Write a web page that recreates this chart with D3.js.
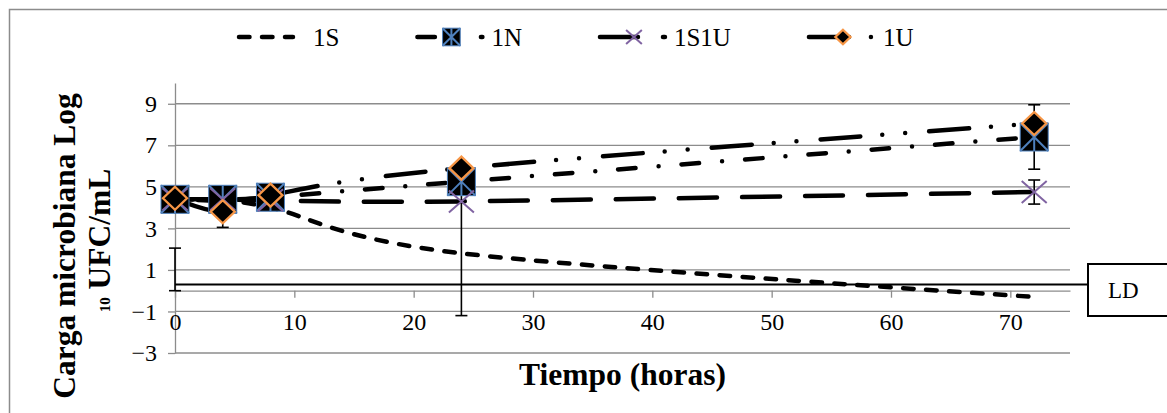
<!DOCTYPE html>
<html>
<head>
<meta charset="utf-8">
<script src="https://cdn.jsdelivr.net/npm/d3@7"></script>
<style>
  body { margin: 0; background: #fff; }
  svg { display: block; }
  svg text { font-family: "Liberation Serif", "Times New Roman", serif; }
</style>
</head>
<body>
<svg id="chart" width="1167" height="413"></svg>
<script>
// data
const hours = [0, 4, 8, 24, 72]
const s1S = [4.4, 4.3, 4.0, 1.8, -0.3]
const s1N = [4.4, 4.4, 4.5, 5.25, 7.4]
const s1S1U = [4.4, 4.4, 4.35, 4.3, 4.75]
const s1U = [4.45, 3.8, 4.6, 5.9, 8.05]
const seriesNames = ["1S", "1N", "1S1U", "1U"]

const errHours = [0, 4, 24, 72, 72]
const errLow = [0, 3.05, -1.2, 5.85, 4.17]
const errHigh = [2.05, 4.55, 4.8, 8.95, 5.33]

const yTicks = [-3, -1, 1, 3, 5, 7, 9]
const xTicks = [0, 10, 20, 30, 40, 50, 60, 70]
const ldValue = 0.3

const gridColor = "#8c8c8c"
const blue = "#4f81bd", purple = "#8064a2", orange = "#f79646"

const svg = d3.select("#chart")
const plot = { left: 175, right: 1070, top: 83, bottom: 353 }

const x = d3.scaleLinear().domain([0, 75]).range([plot.left, plot.right])
const y = d3.scaleLinear().domain([-3, 10]).range([plot.bottom, plot.top])

// outer chart border
svg.append("rect")
    .attr("x", 9.5).attr("y", 9.5)
    .attr("width", 1200).attr("height", 450)
    .attr("fill", "none").attr("stroke", gridColor).attr("stroke-width", 1.5)

// gridlines
svg.append("g").selectAll("line").data(yTicks).join("line")
    .attr("x1", plot.left).attr("x2", plot.right)
    .attr("y1", d => y(d)).attr("y2", d => y(d))
    .attr("stroke", gridColor).attr("stroke-width", 1.3)

// y axis
const yAxis = svg.append("g")
    .attr("transform", `translate(${plot.left},0)`)
    .call(d3.axisLeft(y).tickValues(yTicks).tickSize(7).tickSizeOuter(0).tickPadding(11))
    .attr("font-family", null).attr("font-size", 24)
yAxis.select(".domain").attr("stroke", gridColor).attr("stroke-width", 1.3)
yAxis.selectAll(".tick line").attr("stroke", gridColor).attr("stroke-width", 1.3)
yAxis.selectAll("text").attr("fill", "#000")

// x axis crossing at 0
const xAxis = svg.append("g")
    .attr("transform", `translate(0,${y(0)})`)
    .call(d3.axisBottom(x).tickValues(xTicks).tickSize(7).tickSizeOuter(0))
    .attr("font-family", null).attr("font-size", 24)
xAxis.select(".domain").attr("stroke", gridColor).attr("stroke-width", 1.3)
xAxis.selectAll(".tick line").attr("stroke", gridColor).attr("stroke-width", 1.3)
xAxis.selectAll("text").attr("fill", "#000")
    .attr("y", 330 - y(0)).attr("dy", 0)

// detection limit line and box
const ldBox = { x: 1088, y: 264, h: 52 }
svg.append("line")
    .attr("x1", x(0)).attr("x2", ldBox.x)
    .attr("y1", y(ldValue)).attr("y2", y(ldValue))
    .attr("stroke", "#000").attr("stroke-width", 2)
svg.append("rect")
    .attr("x", ldBox.x).attr("y", ldBox.y).attr("width", 120).attr("height", ldBox.h)
    .attr("fill", "#fff").attr("stroke", "#000").attr("stroke-width", 2)
svg.append("text")
    .attr("x", 1108).attr("y", 298)
    .attr("font-size", 23).text("LD")

// series
const series = [
    { name: seriesNames[0], values: s1S, dash: "10.5,12.5", marker: null },
    { name: seriesNames[1], values: s1N, dash: "17.5,23,0,23", marker: "star" },
    { name: seriesNames[2], values: s1S1U, dash: "38,25", marker: "x" },
    { name: seriesNames[3], values: s1U, dash: "40,22,0,23,0,24", marker: "diamond" }
]

const line = d3.line()
    .x(d => x(d.t))
    .y(d => y(d.v))
    .curve(d3.curveCardinal.tension(0))

const lineStyle = (sel, s) => sel
    .attr("fill", "none").attr("stroke", "#000").attr("stroke-width", 4.5)
    .attr("stroke-linecap", "round").attr("stroke-dasharray", s.dash)

series.forEach(s => {
    const pts = hours.map((t, i) => ({ t: t, v: s.values[i] }))
    svg.append("path").datum(pts).attr("d", line).call(lineStyle, s)
})

// error bars
const errs = errHours.map((t, i) => ({ t: t, lo: errLow[i], hi: errHigh[i] }))
const eb = svg.append("g").attr("stroke", "#000").attr("stroke-width", 1.6)
eb.selectAll(".v").data(errs).join("line")
    .attr("x1", d => x(d.t)).attr("x2", d => x(d.t))
    .attr("y1", d => y(d.lo)).attr("y2", d => y(d.hi))
eb.selectAll(".lo").data(errs).join("line")
    .attr("x1", d => x(d.t) - 6).attr("x2", d => x(d.t) + 6)
    .attr("y1", d => y(d.lo)).attr("y2", d => y(d.lo))
eb.selectAll(".hi").data(errs).join("line")
    .attr("x1", d => x(d.t) - 6).attr("x2", d => x(d.t) + 6)
    .attr("y1", d => y(d.hi)).attr("y2", d => y(d.hi))

// markers
function drawMarker(g, type, k) {
    if (type === "star") {
        const h = 14 * k
        g.append("rect").attr("x", -h).attr("y", -h).attr("width", 2 * h).attr("height", 2 * h)
            .attr("fill", "#000").attr("stroke", blue).attr("stroke-width", 1)
        g.append("path").attr("d", `M${-h},${-h}L${h},${h}M${h},${-h}L${-h},${h}M0,${-h}L0,${h}`)
            .attr("stroke", blue).attr("stroke-width", 2)
    } else if (type === "x") {
        const w = 12.5 * k, h = 11 * k
        g.append("path").attr("d", `M${-w},${-h}L${w},${h}M${w},${-h}L${-w},${h}`)
            .attr("stroke", purple).attr("stroke-width", 2)
    } else if (type === "diamond") {
        const w = 12 * k, h = 11.5 * k
        g.append("path").attr("d", `M0,${-h}L${w},0L0,${h}L${-w},0Z`)
            .attr("fill", "#000").attr("stroke", orange).attr("stroke-width", 2.3)
    }
}

series.filter(s => s.marker).forEach(s => {
    hours.forEach((t, i) => {
        const g = svg.append("g").attr("transform", `translate(${x(t)},${y(s.values[i])})`)
        drawMarker(g, s.marker, 1)
    })
})

// legend
const legend = svg.append("g").attr("transform", "translate(239,37)")
let lx = 0
series.forEach(s => {
    const item = legend.append("g").attr("transform", `translate(${lx},0)`)
    const len = s.marker ? 65 : 54
    item.append("line").attr("x1", 0).attr("x2", len).attr("y1", 0).attr("y2", 0).call(lineStyle, s)
    if (s.marker) drawMarker(item.append("g").attr("transform", "translate(34,0)"), s.marker, 0.63)
    const t = item.append("text").attr("x", 74).attr("y", 8.5)
        .attr("font-size", 25).text(s.name)
    lx += 74 + t.node().getComputedTextLength() + 78
})

// axis titles
svg.append("text")
    .attr("transform", "translate(75,246) rotate(-90)")
    .attr("text-anchor", "middle").attr("font-weight", "bold").attr("font-size", 31.5)
    .text("Carga microbiana Log")
const yt2 = svg.append("text")
    .attr("transform", "translate(110,240.5) rotate(-90)")
    .attr("text-anchor", "middle").attr("font-weight", "bold").attr("font-size", 31.5)
yt2.append("tspan").attr("font-size", 15).text("10")
yt2.append("tspan").text(" UFC/mL")

svg.append("text")
    .attr("x", (plot.left + plot.right) / 2).attr("y", 385)
    .attr("text-anchor", "middle").attr("font-weight", "bold").attr("font-size", 31.5)
    .text("Tiempo (horas)")
</script>
</body>
</html>
